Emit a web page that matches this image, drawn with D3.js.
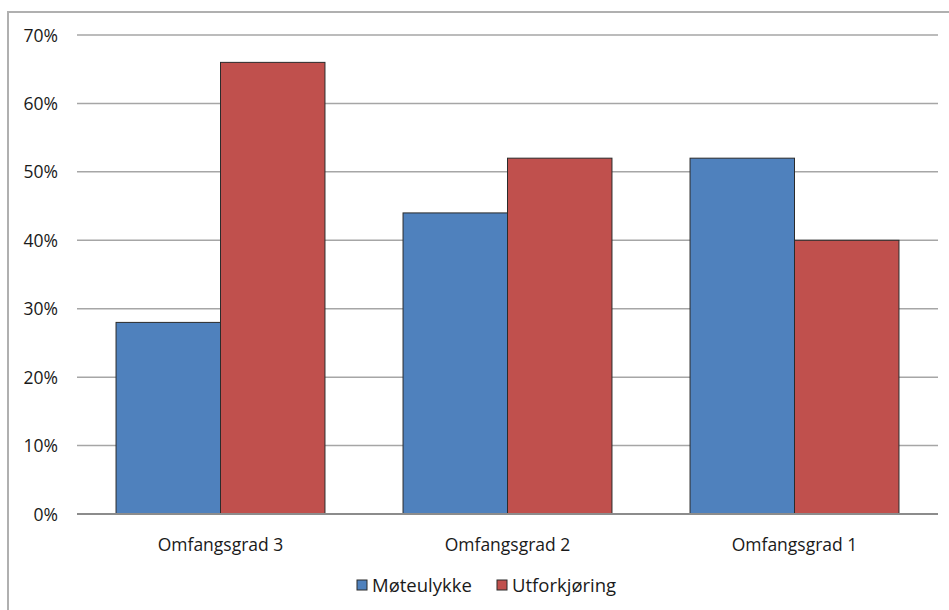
<!DOCTYPE html>
<html>
<head>
<meta charset="utf-8">
<script src="https://cdn.jsdelivr.net/npm/d3@7/dist/d3.min.js"></script>
<style>
  html, body { margin: 0; padding: 0; background: #fff; }
  svg { display: block; }
  text { font-family: "Open Sans", "DejaVu Sans", sans-serif; fill: #1a1a1a; }
</style>
</head>
<body>
<svg id="chart" width="949" height="610"></svg>
<script>
// Share of accidents per severity category
const categories = ["Omfangsgrad 3", "Omfangsgrad 2", "Omfangsgrad 1"];
const seriesNames = ["Møteulykke", "Utforkjøring"];
const moteulykke = [28, 44, 52];
const utforkjoring = [66, 52, 40];
const yTicks = [0, 10, 20, 30, 40, 50, 60, 70];
const colors = ["#4F81BD", "#C0504D"];

const seriesValues = [moteulykke, utforkjoring];
const rows = categories.map((c, i) => ({
  category: c,
  values: seriesNames.map((s, j) => ({ key: s, value: seriesValues[j][i], idx: j }))
}));

const FONT = '"Open Sans", "DejaVu Sans", sans-serif';
const FS = 17.5;

const svg = d3.select("#chart");
const plot = { left: 77, right: 938, top: 35, bottom: 514 };

// Outer chart frame
svg.append("path")
  .attr("d", "M8,610 L8,12 L949,12")
  .attr("fill", "none")
  .attr("stroke", "#b0b0b0")
  .attr("stroke-width", 2);

const y = d3.scaleLinear().domain([0, 70]).range([plot.bottom, plot.top]);
const x0 = d3.scaleBand().domain(categories)
  .range([plot.left, plot.right])
  .paddingInner(0.272).paddingOuter(0.136);
const x1 = d3.scaleBand().domain(seriesNames).range([0, x0.bandwidth()]);

// Gridlines
svg.append("g").selectAll("line")
  .data(yTicks.filter(t => t > 0))
  .join("line")
  .attr("x1", plot.left).attr("x2", plot.right)
  .attr("y1", d => y(d)).attr("y2", d => y(d))
  .attr("stroke", "#a6a6a6").attr("stroke-width", 1.5);

// Y axis labels
const yAxis = d3.axisLeft(y).tickValues(yTicks).tickSize(0).tickPadding(0)
  .tickFormat(d => d + "%");
svg.append("g")
  .attr("transform", `translate(${plot.left - 19},0)`)
  .call(yAxis)
  .attr("font-size", FS).attr("font-family", FONT)
  .call(g => g.select(".domain").remove())
  .call(g => g.selectAll("text").attr("dy", "0.35em").attr("fill", "#1a1a1a"));

// Bars
const groups = svg.append("g").selectAll("g")
  .data(rows)
  .join("g")
  .attr("transform", d => `translate(${x0(d.category)},0)`);

groups.selectAll("rect")
  .data(d => d.values)
  .join("rect")
  .attr("x", d => x1(d.key))
  .attr("y", d => y(d.value))
  .attr("width", x1.bandwidth())
  .attr("height", d => y(0) - y(d.value))
  .attr("fill", d => colors[d.idx])
  .attr("stroke", "#2b2b2b")
  .attr("stroke-width", 1);

// Baseline
svg.append("line")
  .attr("x1", plot.left).attr("x2", plot.right)
  .attr("y1", y(0)).attr("y2", y(0))
  .attr("stroke", "#8c8c8c").attr("stroke-width", 2);

// Category labels
const xAxis = d3.axisBottom(x0).tickSize(0).tickPadding(0);
svg.append("g")
  .attr("transform", `translate(0,${plot.bottom + 31})`)
  .call(xAxis)
  .attr("font-size", FS).attr("font-family", FONT)
  .call(g => g.select(".domain").remove())
  .call(g => g.selectAll("text").attr("dy", "0.35em").attr("y", 0).attr("fill", "#1a1a1a"));

// Legend
const legendX = [357, 497];
const legend = svg.append("g").selectAll("g")
  .data(seriesNames)
  .join("g")
  .attr("transform", (d, i) => `translate(${legendX[i]},585)`);
legend.append("rect")
  .attr("x", 0).attr("y", -5).attr("width", 10).attr("height", 10)
  .attr("fill", (d, i) => colors[i])
  .attr("stroke", "#2b2b2b").attr("stroke-width", 1);
legend.append("text")
  .attr("x", 15).attr("y", 1).attr("dy", "0.35em")
  .attr("font-size", 18.5)
  .text(d => d);
</script>
</body>
</html>
